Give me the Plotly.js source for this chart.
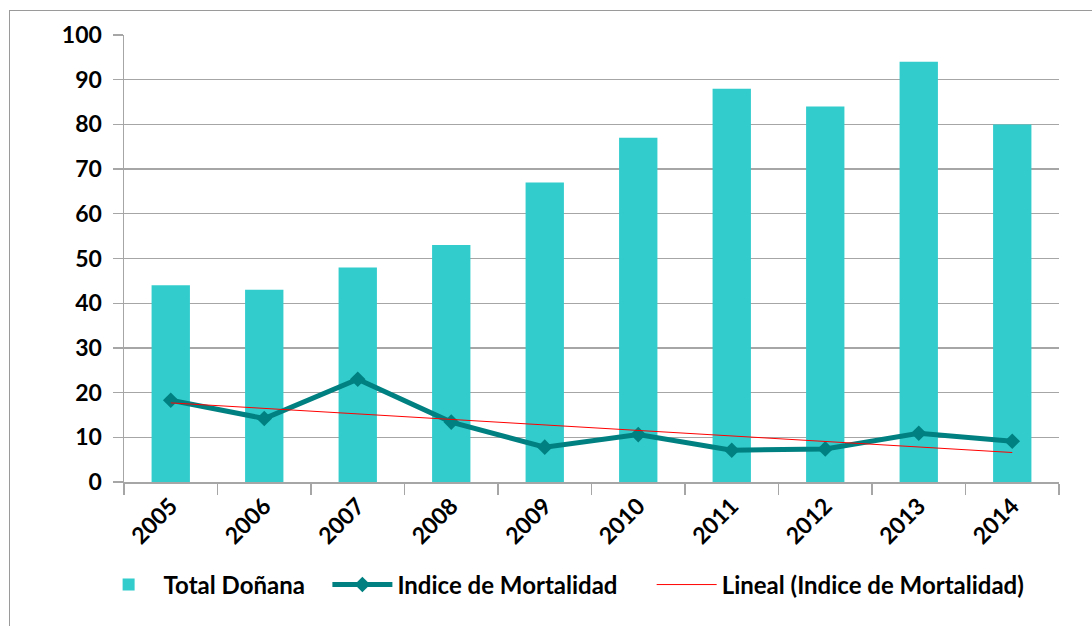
<!DOCTYPE html>
<html>
<head>
<meta charset="utf-8">
<script src="https://cdn.plot.ly/plotly-3.0.1.min.js"></script>
<style>
  body { margin: 0; background: #fff; }
  #wrap { position: relative; width: 1092px; height: 626px; overflow: hidden; }
  #chart { width: 1092px; height: 626px; }
  #frame {
    position: absolute; left: 9px; top: 10px; width: 1200px; height: 700px;
    border-left: 1.5px solid #9a9a9a; border-top: 1.5px solid #9a9a9a;
    pointer-events: none;
  }
</style>
</head>
<body>
<div id="wrap">
  <div id="chart"></div>
  <div id="frame"></div>
</div>
<script>
// Data
const years = ["2005", "2006", "2007", "2008", "2009", "2010", "2011", "2012", "2013", "2014"];
const totalDonana = [44, 43, 48, 53, 67, 77, 88, 84, 94, 80];
const indiceMortalidad = [18.3, 14.2, 23, 13.4, 7.8, 10.6, 7.1, 7.4, 10.9, 9.1];
const trendYears = ["2005", "2014"];
const trendValues = [17.7, 6.6];

const labelFont = { family: "Lato, 'Open Sans', sans-serif", size: 23, color: "#000", weight: "bold" };
const legendFont = Object.assign({}, labelFont, { size: 24 });
const gridGrey = "#a6a6a6";
// extra space after legend names, like the wider gaps of the original legend
const pad = n => "\u00a0".repeat(n);

const data = [
  {
    type: "bar", name: "Total Doñana" + pad(3),
    x: years, y: totalDonana,
    marker: { color: "#33CCCC" }
  },
  {
    type: "scatter", mode: "lines+markers", name: "Indice de Mortalidad" + pad(5),
    x: years, y: indiceMortalidad,
    line: { color: "#008080", width: 5 },
    marker: { symbol: "diamond", size: 12, color: "#008080" }
  },
  {
    type: "scatter", mode: "lines", name: "Lineal (Indice de Mortalidad)",
    x: trendYears, y: trendValues,
    line: { color: "#FF0000", width: 1 }
  }
];

const layout = {
  width: 1092, height: 626,
  margin: { l: 124, r: 33, t: 35, b: 144 },
  paper_bgcolor: "rgba(0,0,0,0)",
  plot_bgcolor: "#fff",
  bargap: 0.59,
  font: labelFont,
  showlegend: true,
  legend: {
    orientation: "h", x: -0.0325, xanchor: "left", y: -0.18, yanchor: "top",
    font: legendFont, itemwidth: 60, traceorder: "normal"
  },
  xaxis: {
    type: "category",
    range: [-0.5, 9.5],
    tickangle: -45,
    tickfont: labelFont,
    showline: true, linecolor: gridGrey, linewidth: 1.5,
    ticks: "outside", tickson: "boundaries", ticklen: 11, tickcolor: gridGrey, tickwidth: 1.3,
    showgrid: false
  },
  yaxis: {
    range: [0, 100], dtick: 10,
    tickfont: labelFont,
    ticklabelstandoff: 6,
    showline: true, linecolor: gridGrey, linewidth: 1.5,
    ticks: "outside", ticklen: 10, tickcolor: gridGrey, tickwidth: 1.3,
    gridcolor: gridGrey, gridwidth: 1.3,
    zeroline: false
  }
};

Plotly.newPlot("chart", data, layout, { displayModeBar: false, staticPlot: true });
</script>
</body>
</html>
